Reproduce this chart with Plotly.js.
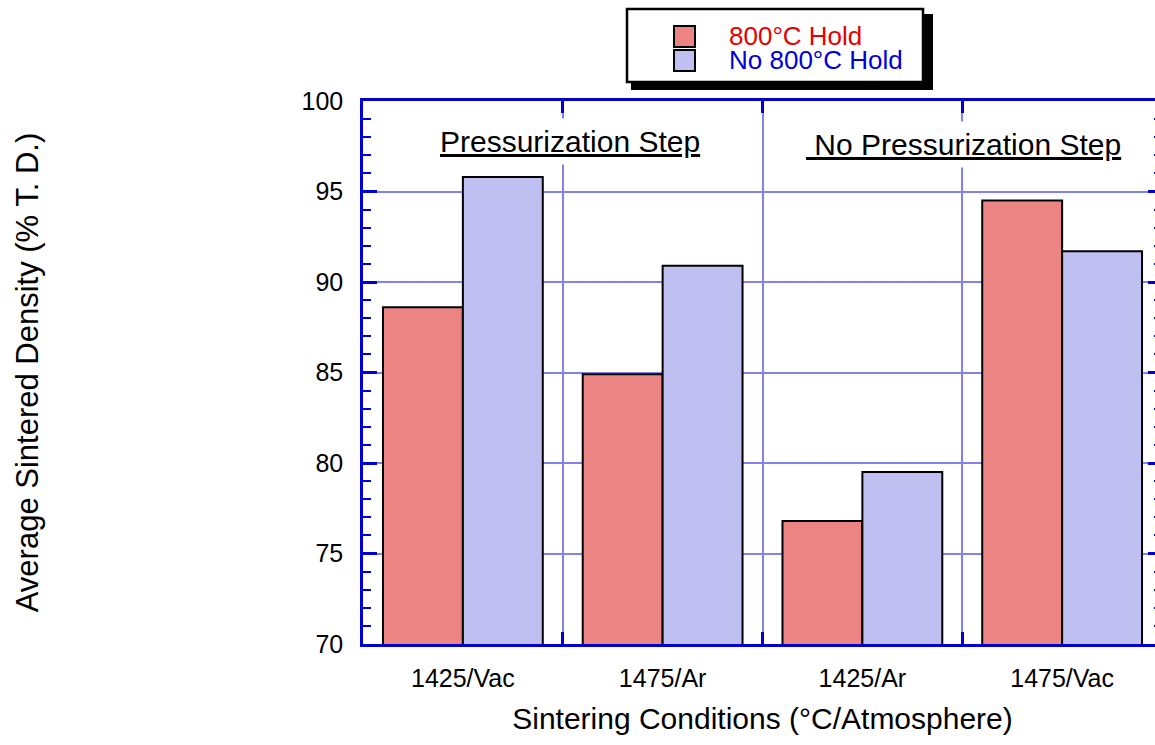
<!DOCTYPE html>
<html>
<head>
<meta charset="utf-8">
<script src="https://cdn.plot.ly/plotly-3.0.1.min.js"></script>
<style>
html,body{margin:0;padding:0;overflow:hidden;background:#fff;}
#chart{width:1170px;height:745px;}
</style>
</head>
<body>
<div id="chart"></div>
<script>
// ---- data ----
const categories = ['1425/Vac', '1475/Ar', '1425/Ar', '1475/Vac'];
const seriesNames = ['800°C Hold', 'No 800°C Hold'];
const hold800 = [88.6, 84.9, 76.8, 94.5];
const noHold800 = [95.8, 90.9, 79.5, 91.7];
const groupLabels = ['Pressurization Step', '\u00a0No Pressurization Step'];
const yTickVals = [70, 75, 80, 85, 90, 95, 100];

// ---- styles ----
const FONT = '"Liberation Sans", Arial, Helvetica, sans-serif';
const AXIS_BLUE = 'rgb(0,0,210)';
const GRID_BLUE = 'rgb(130,130,236)';
const fillColors = ['rgb(237,132,132)', 'rgb(191,191,242)'];
const textColors = ['rgb(230,0,0)', 'rgb(0,0,215)'];

const W = 1170, H = 745;
const M = {l: 363, r: 8, t: 101, b: 101};
const plotW = W - M.l - M.r, plotH = H - M.t - M.b;
const px2x = p => (p - M.l) / plotW;
const px2y = p => (H - M.b - p) / plotH;

const seriesValues = [hold800, noHold800];
const traces = seriesValues.map((vals, i) => ({
  type: 'bar',
  x: categories,
  y: vals,
  name: seriesNames[i],
  showlegend: false,
  marker: {color: fillColors[i], line: {color: '#000', width: 2}},
  hoverinfo: 'x+y+name'
}));

// legend drawn as a boxed panel with shadow
const shapes = [
  {type: 'rect', xref: 'paper', yref: 'paper', layer: 'above',
   x0: px2x(631), x1: px2x(933), y0: px2y(90), y1: px2y(14),
   fillcolor: '#000', line: {width: 0}},
  {type: 'rect', xref: 'paper', yref: 'paper', layer: 'above',
   x0: px2x(627), x1: px2x(923), y0: px2y(82), y1: px2y(9),
   fillcolor: '#fff', line: {color: '#000', width: 2.5}}
];
const annotations = [];
seriesNames.forEach((nm, i) => {
  const top = 26 + i * 24;
  shapes.push({type: 'rect', xref: 'paper', yref: 'paper', layer: 'above',
    x0: px2x(674), x1: px2x(695), y0: px2y(top + 21), y1: px2y(top),
    fillcolor: fillColors[i], line: {color: '#000', width: 2}});
  annotations.push({xref: 'paper', yref: 'paper', x: px2x(728), y: px2y(top + 10),
    xanchor: 'left', yanchor: 'middle', showarrow: false, text: nm, borderpad: 0,
    font: {family: FONT, size: 26, color: textColors[i]}});
});

// group labels
const groupPos = [[0.535, 97.75], [2.505, 97.6]];
groupLabels.forEach((t, i) => {
  annotations.push({xref: 'x', yref: 'y', x: groupPos[i][0], y: groupPos[i][1],
    showarrow: false, text: '<span style="text-decoration:underline">' + t + '</span>',
    bgcolor: '#fff', borderpad: 6,
    font: {family: FONT, size: 30, color: '#000'}});
});

const layout = {
  width: W, height: H,
  margin: M,
  paper_bgcolor: '#fff', plot_bgcolor: '#fff',
  font: {family: FONT, color: '#000'},
  barmode: 'group', bargap: 0.2, bargroupgap: 0,
  showlegend: false,
  xaxis: {
    type: 'category', categoryorder: 'array', categoryarray: categories,
    range: [-0.5, 3.5],
    tickson: 'boundaries', ticks: 'inside', ticklen: 12, tickwidth: 2.5, tickcolor: AXIS_BLUE,
    showline: true, linecolor: AXIS_BLUE, linewidth: 2.5, mirror: 'ticks',
    showgrid: true, gridcolor: GRID_BLUE, gridwidth: 2,
    tickfont: {family: FONT, size: 25, color: '#000'}, ticklabelstandoff: 10,
    title: {text: 'Sintering Conditions (°C/Atmosphere)', font: {family: FONT, size: 30, color: '#000'}, standoff: 18},
    fixedrange: true
  },
  xaxis2: {
    overlaying: 'x', anchor: 'y', type: 'linear', range: [-0.5, 3.5],
    tick0: -0.5, dtick: 0.2, ticks: 'inside', ticklen: 5, tickwidth: 2, tickcolor: AXIS_BLUE,
    showticklabels: false, showgrid: false, zeroline: false,
    showline: true, linecolor: AXIS_BLUE, linewidth: 2.5, mirror: 'ticks',
    fixedrange: true
  },
  yaxis: {
    range: [70, 100], tickvals: yTickVals, ticks: 'inside', ticklen: 14, tickwidth: 2.5, tickcolor: AXIS_BLUE,
    minor: {dtick: 1, tick0: 70, ticks: 'inside', ticklen: 8, tickwidth: 2, tickcolor: AXIS_BLUE, showgrid: false},
    showline: true, linecolor: AXIS_BLUE, linewidth: 2.5, mirror: 'ticks',
    showgrid: true, gridcolor: GRID_BLUE, gridwidth: 2, zeroline: false,
    tickfont: {family: FONT, size: 25, color: '#000'}, ticklabelstandoff: 12,
    title: {text: 'Average Sintered Density (% T. D.)', font: {family: FONT, size: 31, color: '#000'}, standoff: 254},
    fixedrange: true
  },
  shapes: shapes,
  annotations: annotations
};

Plotly.newPlot('chart', traces, layout, {displayModeBar: false});
</script>
</body>
</html>
